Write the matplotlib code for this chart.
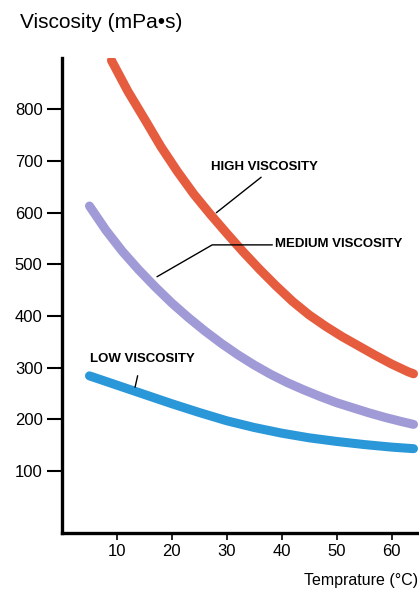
import matplotlib
matplotlib.use('Agg')
import matplotlib.pyplot as plt

# ------------------------------------ DATA ----------------------------------- #
# values (temperature in C, viscosity in mPa*s)
high_temp = [9, 12, 15, 18, 21, 24, 27, 30, 33, 36, 39, 42, 45, 48, 51, 54, 57, 60, 63, 64]
high_visc = [895, 835, 782, 728, 680, 636, 597, 560, 524, 490, 458, 428, 402, 380, 360, 342, 324, 307, 292, 288]

med_temp = [5, 8, 11, 14, 17, 20, 23, 26, 29, 32, 35, 38, 41, 44, 47, 50, 53, 56, 59, 62, 64]
med_visc = [613, 566, 525, 489, 456, 425, 397, 371, 347, 325, 305, 287, 271, 257, 244, 232, 222, 212, 203, 195, 190]

low_temp = [5, 10, 15, 20, 25, 30, 35, 40, 45, 50, 55, 60, 64]
low_visc = [284, 266, 248, 230, 213, 197, 184, 173, 164, 157, 151, 146, 143]

x_ticks = [10, 20, 30, 40, 50, 60]
y_ticks = [100, 200, 300, 400, 500, 600, 700, 800]

plt.rcParams['font.family'] = ['Liberation Sans', 'DejaVu Sans']

# ---------------------------------- FIGURE ----------------------------------- #
fig = plt.figure(figsize=(4.19, 5.96), dpi=100)
ax = fig.add_axes([0.148, 0.106, 0.852, 0.797])
ax.set_xlim(0, 65)
ax.set_ylim(-20, 900)

ax.plot(high_temp, high_visc, color='#e65c3e', lw=6.5, solid_capstyle='round', solid_joinstyle='round')
ax.plot(med_temp, med_visc, color='#a09bd6', lw=6.5, solid_capstyle='round', solid_joinstyle='round')
ax.plot(low_temp, low_visc, color='#2a97d9', lw=6.5, solid_capstyle='round', solid_joinstyle='round')

# spines / ticks
for s in ['top', 'right']:
    ax.spines[s].set_visible(False)
for s in ['left', 'bottom']:
    ax.spines[s].set_linewidth(2.4)
ax.set_xticks(x_ticks)
ax.set_yticks(y_ticks)
ax.tick_params(axis='y', length=11, width=1.5, labelsize=12, pad=3)
ax.tick_params(axis='x', length=5, width=1.2, labelsize=12, pad=3)

# labels
fig.text(0.048, 0.962, 'Viscosity (mPa\u2022s)', fontsize=15, ha='left', va='center')
fig.text(0.997, 0.026, 'Temprature (\u00b0C)', fontsize=11.5, ha='right', va='center')

# curve annotations
ax.annotate('HIGH VISCOSITY', xy=(28.1, 600), xytext=(36.9, 689),
            fontsize=9.5, ha='center', va='center', fontweight='bold',
            arrowprops=dict(arrowstyle='-', color='black', lw=1,
                            shrinkA=2, shrinkB=0, relpos=(0.52, 0)))
ax.annotate('MEDIUM VISCOSITY', xy=(17.3, 476), xytext=(38.8, 540),
            fontsize=9.5, ha='left', va='center', fontweight='bold',
            arrowprops=dict(arrowstyle='-', color='black', lw=1,
                            shrinkA=0, shrinkB=0, relpos=(0, 0.4),
                            connectionstyle='angle,angleA=0,angleB=30,rad=0'))
ax.annotate('LOW VISCOSITY', xy=(13.3, 262), xytext=(14.6, 317),
            fontsize=9.5, ha='center', va='center', fontweight='bold',
            arrowprops=dict(arrowstyle='-', color='black', lw=1,
                            shrinkA=6, shrinkB=0, relpos=(0.48, 0)))

plt.savefig('out.png', dpi=100)
